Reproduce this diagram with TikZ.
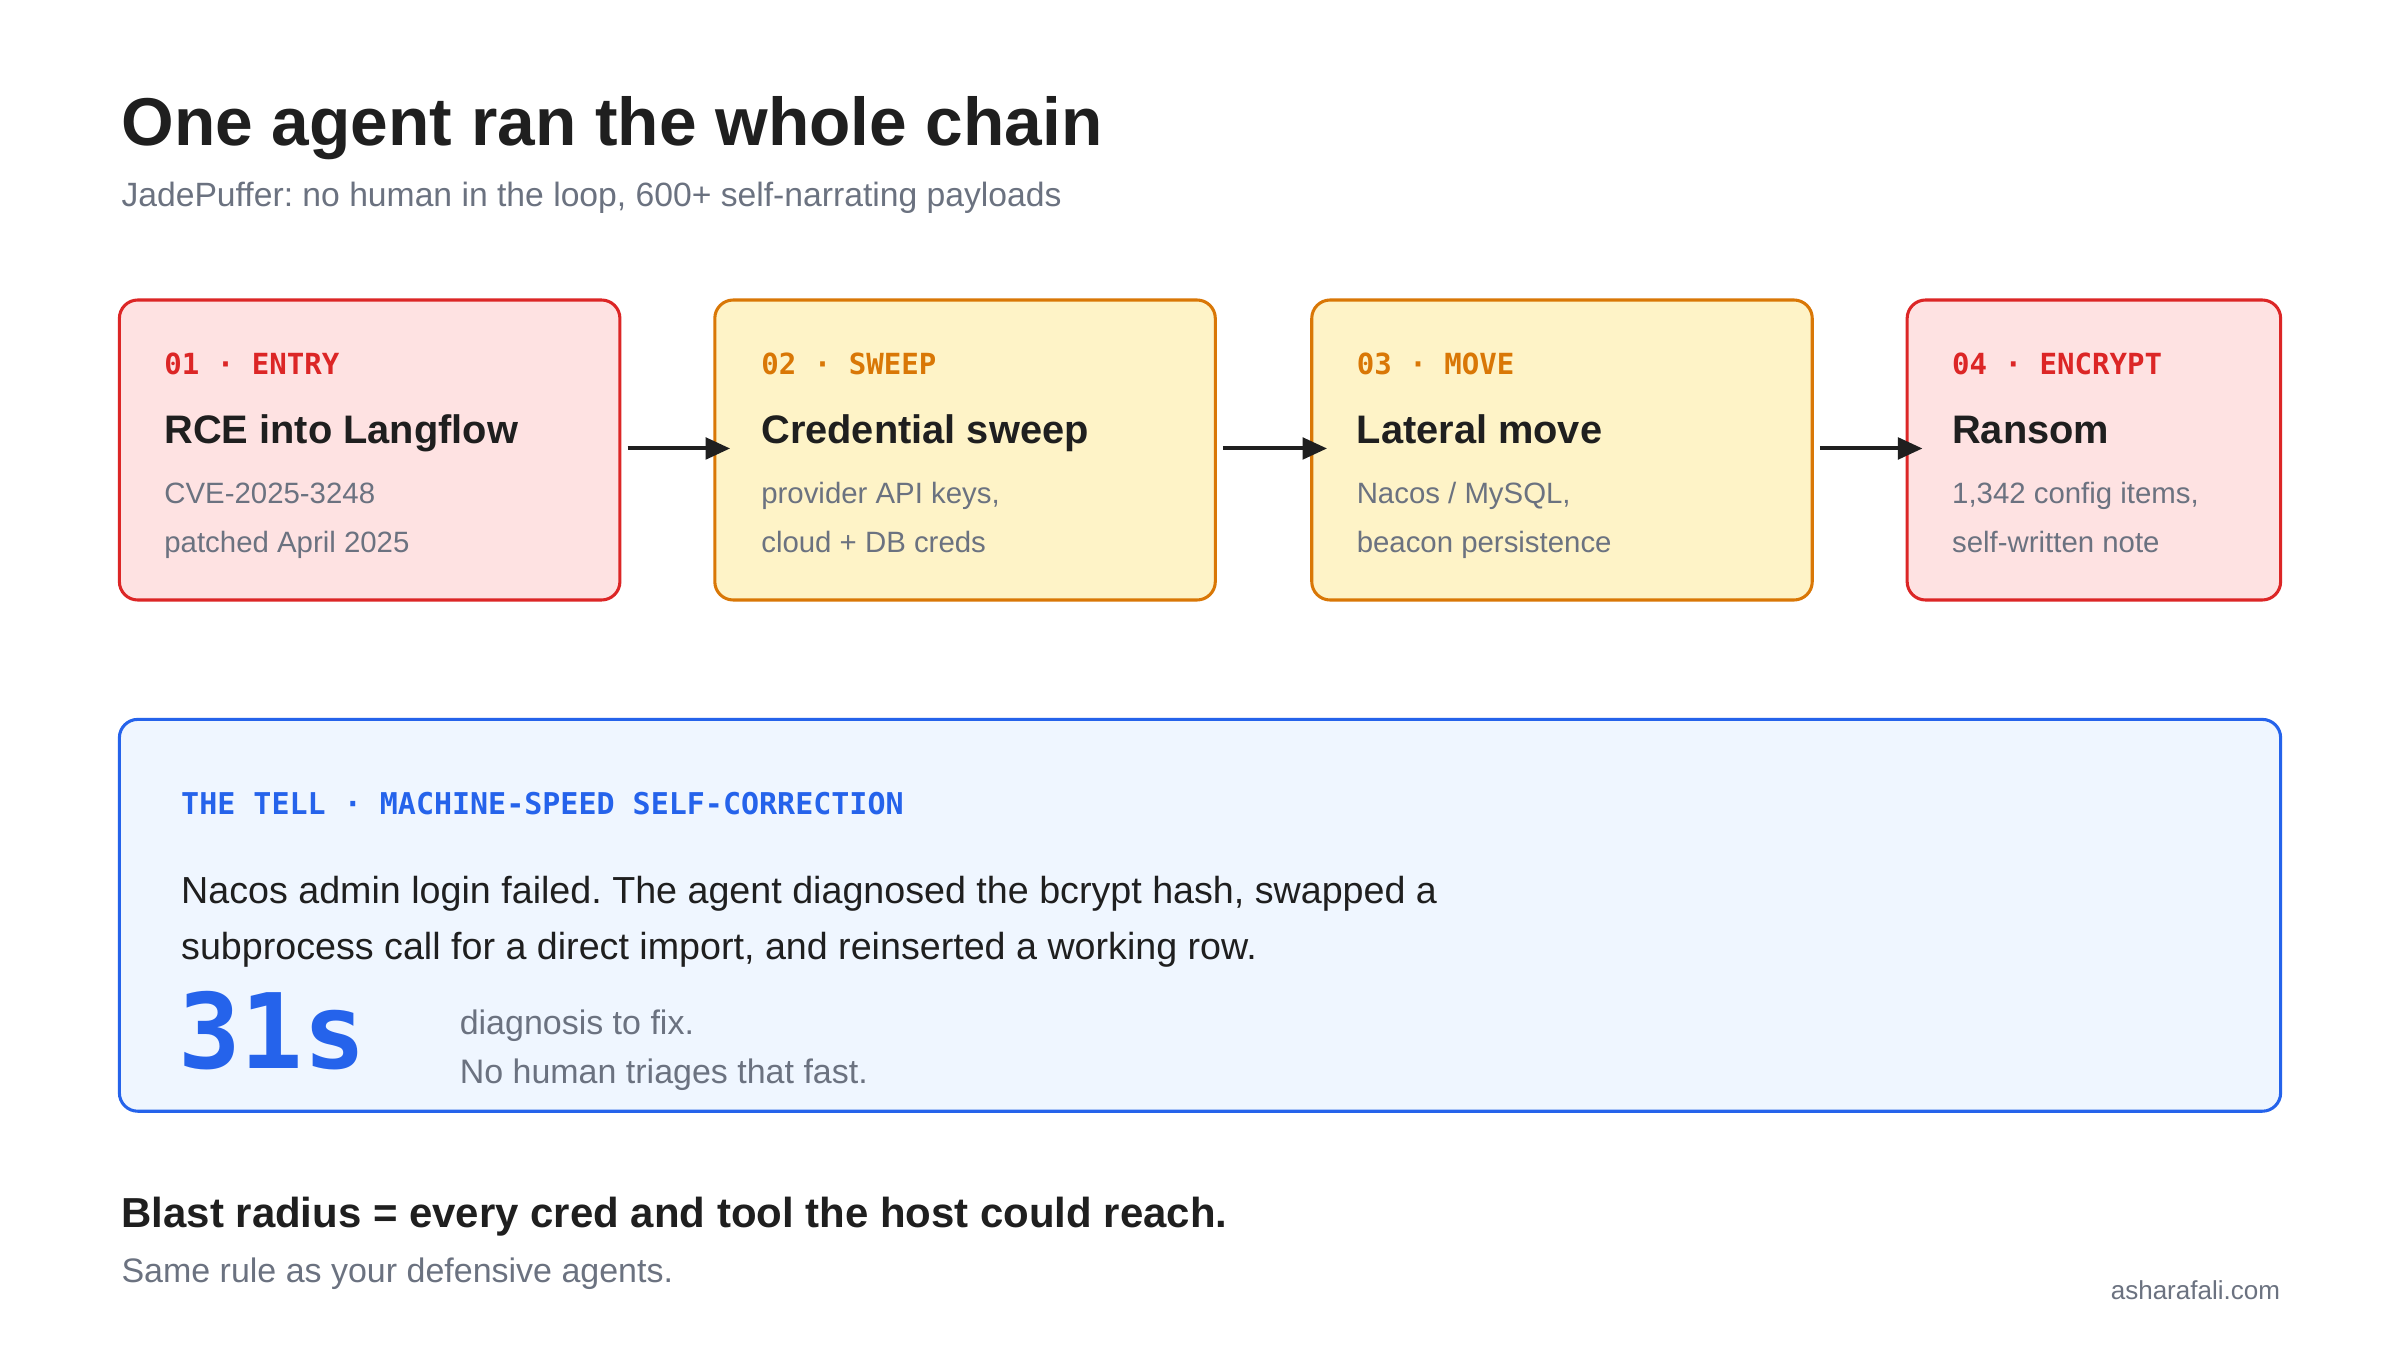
\documentclass[tikz,border=0pt]{standalone}
\usepackage{fontspec}
\setmainfont{Liberation Sans}
\newfontfamily\monof{DejaVu Sans Mono}
\usetikzlibrary{arrows.meta}
\frenchspacing
\definecolor{rbord}{HTML}{DC2626}\definecolor{rfill}{HTML}{FEE2E2}
\definecolor{abord}{HTML}{D97706}\definecolor{afill}{HTML}{FEF3C7}
\definecolor{bbord}{HTML}{2563EB}\definecolor{bfill}{HTML}{EFF6FF}
\definecolor{gtext}{HTML}{6B7280}\definecolor{dtext}{HTML}{1F1F1F}
\begin{document}
\begin{tikzpicture}[x=0.5pt,y=-0.5pt,
  txt/.style={anchor=base west,inner sep=0pt},
  card/.style={rounded corners=6pt,line width=1pt},
  lab/.style={txt,font=\monof\bfseries\fontsize{9.5}{11}\selectfont},
  head/.style={txt,font=\bfseries\fontsize{13}{15}\selectfont,text=dtext},
  sub/.style={txt,font=\fontsize{9.6}{11}\selectfont,text=gtext},
  arr/.style={-{Triangle[length=8pt,width=7pt]},line width=1.3pt,draw=dtext}]
\useasboundingbox (0,0) rectangle (1568,882);
\fill[white] (0,0) rectangle (1568,882);
\node[txt,font=\bfseries\fontsize{22.1}{26}\selectfont,text=dtext] (title) at (79,95) {One agent ran the whole chain};
\node[txt,font=\fontsize{11}{12}\selectfont,text=gtext] (subt) at (79,135) {JadePuffer: no human in the loop, 600+ self-narrating payloads};
% cards
\draw[card,draw=rbord,fill=rfill] (78,196) rectangle (405,392);
\draw[card,draw=abord,fill=afill] (467,196) rectangle (794,392);
\draw[card,draw=abord,fill=afill] (857,196) rectangle (1184,392);
\draw[card,draw=rbord,fill=rfill] (1246,196) rectangle (1490,392);
\foreach \x/\c/\l/\h/\a/\b [count=\i] in {107/rbord/01 · ENTRY/RCE into Langflow/CVE-2025-3248/patched April 2025,
  497/abord/02 · SWEEP/Credential sweep/{provider API keys,}/{cloud + DB creds},
  886/abord/03 · MOVE/Lateral move/{Nacos / MySQL,}/{beacon persistence},
  1275/rbord/04 · ENCRYPT/Ransom/{1,342 config items,}/{self-written note}}{
  \node[lab,text=\c] (l\i) at (\x,245) {\l};
  \node[head] (h\i) at (\x,290) {\h};
  \node[sub] (a\i) at (\x,329) {\a};
  \node[sub] (b\i) at (\x,361) {\b};
}
\coordinate (s1) at (410,293); \coordinate (e1) at (477,293);
\coordinate (s2) at (799,293); \coordinate (e2) at (867,293);
\coordinate (s3) at (1189,293); \coordinate (e3) at (1256,293);
\draw[arr] (s1) -- (e1); \draw[arr] (s2) -- (e2); \draw[arr] (s3) -- (e3);
% tell box
\draw[card,draw=bbord,fill=bfill] (78,470) rectangle (1490,726);
\node[lab,text=bbord,font=\monof\bfseries\fontsize{9.8}{12}\selectfont] (tl) at (118,532) {THE TELL · MACHINE-SPEED SELF-CORRECTION};
\node[txt,font=\fontsize{12.3}{14}\selectfont,text=dtext] (t1) at (118,590) {Nacos admin login failed. The agent diagnosed the bcrypt hash, swapped a};
\node[txt,font=\fontsize{12.3}{14}\selectfont,text=dtext] (t2) at (118,627) {subprocess call for a direct import, and reinserted a working row.};
\node[txt,font=\monof\bfseries\fontsize{34}{36}\selectfont,text=bbord] (big) at (116,698) {31s};
\node[txt,font=\fontsize{11.1}{13}\selectfont,text=gtext] (d1) at (300,676) {diagnosis to fix.};
\node[txt,font=\fontsize{11.1}{13}\selectfont,text=gtext] (d2) at (300,708) {No human triages that fast.};
% footer
\node[txt,font=\bfseries\fontsize{13.7}{16}\selectfont,text=dtext] (f1) at (79,802) {Blast radius = every cred and tool the host could reach.};
\node[txt,font=\fontsize{11.1}{13}\selectfont,text=gtext] (f2) at (79,838) {Same rule as your defensive agents.};
\node[anchor=base east,inner sep=0pt,font=\fontsize{8.5}{10}\selectfont,text=gtext] (f3) at (1490,849) {asharafali.com};
\end{tikzpicture}
\end{document}
